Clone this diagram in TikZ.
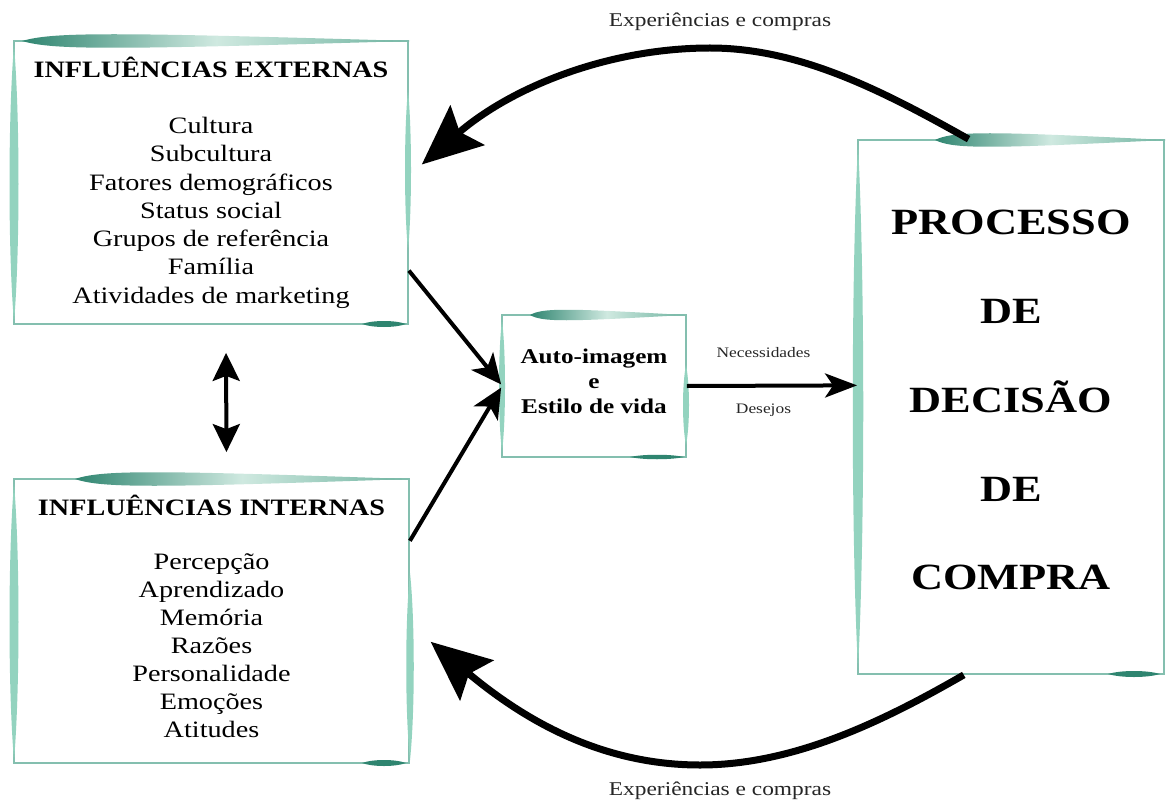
\documentclass[tikz,border=0pt]{standalone}
\usepackage{fontspec}
\setmainfont{Liberation Serif}[FakeStretch=1.2]
\definecolor{hcEdge}{HTML}{84BFAF}
\definecolor{hcLeafDark}{HTML}{2F8570}
\definecolor{hcLeafMid}{HTML}{6FB3A0}
\definecolor{hcLeafPale}{HTML}{CFE9E0}
\definecolor{hcLeafSide}{HTML}{93D3BF}
\usetikzlibrary{arrows.meta}
% leaf shapes on the box edges
\newcommand{\hcLeafH}[5]{%
  \path[#1] (#2,#4) .. controls ({#2+0.08*(#3-#2)},{#4-#5}) and ({#2+0.22*(#3-#2)},{#4-#5}) .. (#3,#4)
    .. controls ({#2+0.22*(#3-#2)},{#4+#5}) and ({#2+0.08*(#3-#2)},{#4+#5}) .. cycle;}
\newcommand{\hcLeafS}[5]{%
  \path[#1] (#2,#4) .. controls ({#2+0.25*(#3-#2)},{#4-#5}) and ({#2+0.75*(#3-#2)},{#4-#5}) .. (#3,#4)
    .. controls ({#2+0.75*(#3-#2)},{#4+#5}) and ({#2+0.25*(#3-#2)},{#4+#5}) .. cycle;}
\newcommand{\hcLeafV}[5]{%
  \path[#1] (#4,#2) .. controls ({#4+#5},{#2+0.25*(#3-#2)}) and ({#4+#5},{#2+0.75*(#3-#2)}) .. (#4,#3)
    .. controls ({#4-#5},{#2+0.75*(#3-#2)}) and ({#4-#5},{#2+0.25*(#3-#2)}) .. cycle;}

\begin{document}
\begin{tikzpicture}[x=1pt, y=-1pt,
  hcbox/.style={draw=hcEdge, line width=1.8pt, fill=white, inner sep=0pt, align=center},
  leafdark/.style={left color=hcLeafDark, right color=hcLeafMid, middle color=hcLeafPale},
  leafside/.style={fill=hcLeafSide},
  leafsmall/.style={fill=hcLeafDark},
  flow/.style={line width=4pt, -{Stealth[length=30pt, width=28pt, inset=8pt]}},
  loop/.style={line width=7pt, -{Stealth[length=60pt, width=52pt, inset=10pt]}},
  note/.style={font=\fontsize{19.5}{22}\selectfont, text=black!85},
  small/.style={font=\fontsize{14.5}{17}\selectfont, text=black!85, inner sep=0pt}]
  \useasboundingbox (0,0) rectangle (1166,802);

  % boxes
  \node[hcbox, minimum width=394pt, minimum height=283pt, font=\fontsize{23.5}{28.3}\selectfont] (ext) at (211,182.5)
    {\textbf{INFLUÊNCIAS EXTERNAS}\\[28pt] Cultura\\ Subcultura\\ Fatores demográficos\\ Status social\\ Grupos de referência\\ Família\\ Atividades de marketing};
  \node[hcbox, minimum width=395pt, minimum height=284pt, font=\fontsize{23.5}{27.9}\selectfont, text depth=10pt] (int) at (211.5,621)
    {\textbf{INFLUÊNCIAS INTERNAS}\\[27pt] Percepção\\ Aprendizado\\ Memória\\ Razões\\ Personalidade\\ Emoções\\ Atitudes};
  \node[hcbox, minimum width=184pt, minimum height=142pt, font=\bfseries\fontsize{21}{25}\selectfont, text depth=10pt] (self) at (594,386)
    {Auto-imagem\\ e\\ Estilo de vida};
  \node[hcbox, minimum width=306pt, minimum height=534pt, font=\bfseries\fontsize{37}{88.75}\selectfont, text depth=14pt] (proc) at (1011,407)
    {PROCESSO\\ DE\\ DECISÃO\\ DE\\ COMPRA};

  % leaves
  \hcLeafH{leafdark}{22}{410}{41}{9}
  \hcLeafV{leafside}{46}{322}{14}{6}
  \hcLeafV{leafside}{90}{250}{408}{4}
  \hcLeafS{leafsmall}{362}{406}{324}{4}
  \hcLeafH{leafdark}{75}{409}{479}{9}
  \hcLeafV{leafside}{484}{760}{14}{6}
  \hcLeafV{leafside}{573}{760}{410}{5}
  \hcLeafS{leafsmall}{362}{406}{763}{4}
  \hcLeafH{leafdark}{530}{684}{315}{7}
  \hcLeafV{leafside}{320}{452}{502}{4}
  \hcLeafV{leafside}{365}{445}{686}{4}
  \hcLeafS{leafsmall}{630}{684}{457}{3}
  \hcLeafH{leafdark}{935}{1166}{140}{9}
  \hcLeafV{leafside}{145}{668}{858}{7}
  \hcLeafS{leafsmall}{1108}{1160}{674}{4}

  % connectors
  \draw[flow] (ext.-24) -- (self.179);
  \draw[flow] (int.22) -- (self.181);
  \draw[line width=4pt, {Stealth[length=28pt, width=27pt, inset=5pt]}-{Stealth[length=28pt, width=27pt, inset=5pt]},
    shorten <=28pt, shorten >=26pt] (ext.-84) -- (int.84);
  \draw[line width=4pt, -{Stealth[length=32pt, width=24pt, inset=8pt]}] (self.east) -- (proc.172)
    node[small, pos=0.45, above=26pt] (need) {Necessidades}
    node[small, pos=0.45, below=16pt] (want) {Desejos};
  \draw[loop, shorten >=17pt] (proc.99) .. controls (883,91) and (800,48) .. (710,48)
    .. controls (610,48) and (513,86) .. (ext.2.5);
  \draw[loop, shorten >=27pt] (proc.-100) .. controls (877,725) and (790,765) .. (700,765)
    .. controls (600,765) and (523,719) .. (int.-1.4);

  % labels
  \node[note, anchor=base] (topnote) at (720,27) {Experiências e compras};
  \node[note, anchor=base] (botnote) at (720,795) {Experiências e compras};
\end{tikzpicture}
\end{document}
